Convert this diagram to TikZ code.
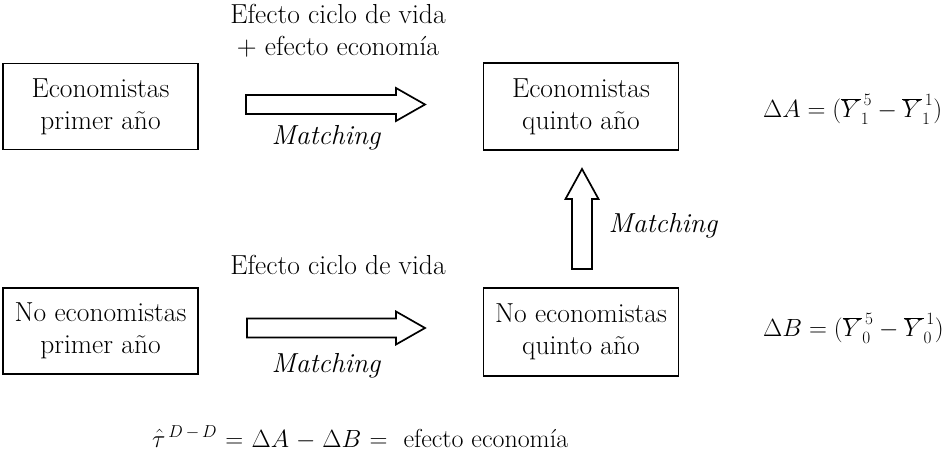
\documentclass[tikz,border=0pt]{standalone}
\usetikzlibrary{calc}
\tikzset{
  txt/.style={font=\fontsize{27.5}{32}\selectfont, inner sep=0pt},
  itxt/.style={font=\fontsize{27.5}{32}\selectfont\itshape, inner sep=0pt},
  boxnode/.style={draw, line width=1.7pt, minimum width=195pt, align=center, inner sep=0pt, font=\fontsize{27.5}{32}\selectfont},
  fat/.style={draw, line width=1.7pt, line join=miter, fill=white}
}
\newcommand{\fatH}[2]{%
  \draw[fat] ($(#1)+(0,-9.5)$) -- ($(#2)+(-29,-9.5)$) -- ($(#2)+(-29,-16.5)$) -- (#2)
    -- ($(#2)+(-29,16.5)$) -- ($(#2)+(-29,9.5)$) -- ($(#1)+(0,9.5)$) -- cycle;}
\newcommand{\fatV}[2]{%
  \draw[fat] ($(#1)+(-10,0)$) -- ($(#2)+(-10,30)$) -- ($(#2)+(-16.5,30)$) -- (#2)
    -- ($(#2)+(16.5,30)$) -- ($(#2)+(10,30)$) -- ($(#1)+(10,0)$) -- cycle;}
\begin{document}
\begin{tikzpicture}[x=1pt,y=-1pt]
\useasboundingbox (0,0) rectangle (943,454);
% boxes
\node[boxnode, minimum height=86pt] (ea1) at (100.5,106.5) {Economistas\\primer año};
\node[boxnode, minimum height=87pt] (ea5) at (581,106.5) {Economistas\\quinto año};
\node[boxnode, minimum height=86pt] (na1) at (100.5,331) {No economistas\\primer año};
\node[boxnode, minimum height=88pt] (na5) at (581,332) {No economistas\\quinto año};
% arrow end points
\coordinate (t1) at (246,104.5);
\coordinate (p1) at (425,104.5);
\coordinate (t2) at (247,328);
\coordinate (p2) at (425,328);
\coordinate (t3) at (582,269);
\coordinate (p3) at (582,169);
\fatH{t1}{p1}
\fatH{t2}{p2}
\fatV{t3}{p3}
% labels
\node[txt, align=center] (lab1) at (338,31) {Efecto ciclo de vida\\+ efecto economía};
\node[itxt, anchor=base] (m1) at (326,145) {Matching};
\node[txt, anchor=base] (lab2) at (338,275) {Efecto ciclo de vida};
\node[itxt, anchor=base] (m2) at (326,373) {Matching};
\node[itxt, anchor=base] (m3) at (663,233) {Matching};
\node[font=\fontsize{25.5}{32}\selectfont, inner sep=0pt, anchor=base west] (da) at (763,118) {$\Delta A = (\overline{Y}_1^{\,5} - \overline{Y}_1^{\,1})$};
\node[font=\fontsize{25.5}{32}\selectfont, inner sep=0pt, anchor=base west] (db) at (763,337) {$\Delta B = (\overline{Y}_0^{\,5} - \overline{Y}_0^{\,1})$};
\node[font=\fontsize{26}{30}\selectfont, inner sep=0pt, anchor=base west] (tau) at (152,447) {$\thickmuskip=6mu\medmuskip=5mu\hat{\tau}^{\,D\,-\,D} = \Delta A - \Delta B = {}$\ efecto economía};
\end{tikzpicture}
\end{document}
